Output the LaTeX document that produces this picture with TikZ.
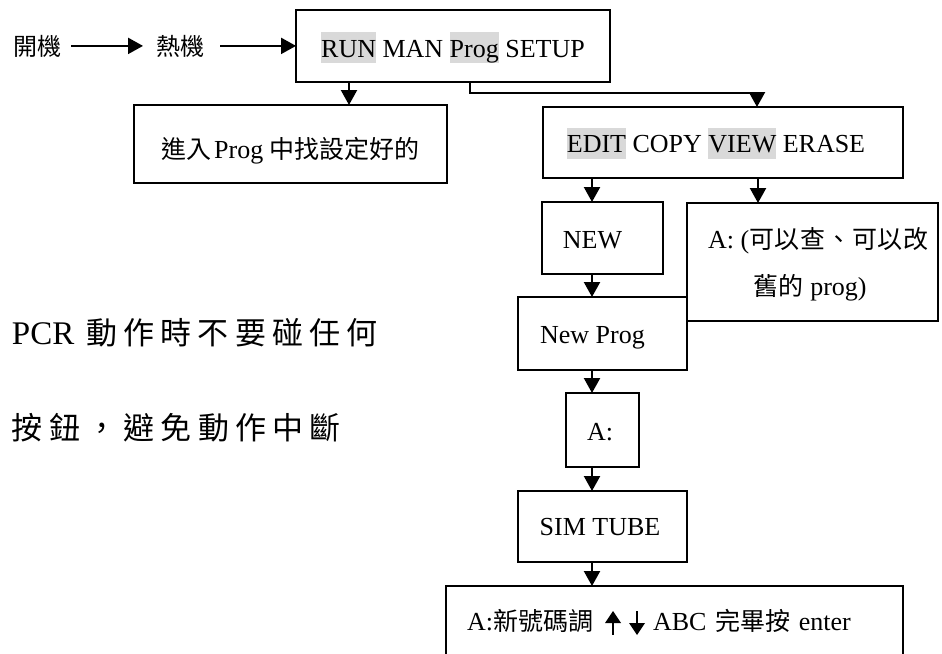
\documentclass[tikz,border=0pt]{standalone}
\usepackage{fontspec}
\setmainfont{Liberation Serif}
\newfontfamily\cjk{Noto Sans CJK TC}
\newfontfamily\cjkwide[LetterSpace=20]{Noto Sans CJK TC}
\newfontfamily\cjkmid[LetterSpace=3]{Noto Sans CJK TC}
\usetikzlibrary{arrows.meta}
\definecolor{hlgray}{RGB}{217,217,217}
\newcommand\hlw[1]{\begingroup\setlength{\fboxsep}{0pt}\colorbox{hlgray}{\rule[-6pt]{0pt}{31pt}#1}\endgroup}
\newcommand\zh[1]{{\cjk\fontsize{25}{30}\selectfont #1}}
\newcommand\uparr{\tikz[baseline=0pt,x=1pt,y=1pt]{\fill (-1.4,-5) rectangle (1.4,8); \fill (-8,7) -- (8,7) -- (0,19) -- cycle;}}
\newcommand\downarr{\tikz[baseline=0pt,x=1pt,y=1pt]{\fill (-1.4,19) rectangle (1.4,5); \fill (-8,7) -- (8,7) -- (0,-5) -- cycle;}}
\begin{document}
\begin{tikzpicture}[x=1pt,y=-1pt,
  box/.style={draw, line width=1.6pt, inner sep=0pt, outer sep=0pt, font=\fontsize{26}{30}\selectfont},
  bl/.style={text height=#1, text depth=0pt},
  arr/.style={line width=2.2pt, -{Triangle[width=16pt,length=15pt]}},
  plain/.style={inner sep=0pt, outer sep=0pt, anchor=base west}
]
\useasboundingbox (0,0) rectangle (942,653);

% start chain
\node[plain, font=\fontsize{24}{28}\selectfont] (kai) at (13,55) {\cjk 開機};
\node[plain, font=\fontsize{24}{28}\selectfont] (re) at (156,55) {\cjk 熱機};

% boxes
\node[box, minimum width=314pt, minimum height=72pt, bl=22pt] (top) at (453,46)
  {\hlw{RUN} MAN \hlw{Prog} SETUP};
\node[box, minimum width=313pt, minimum height=78pt, bl=28pt] (left) at (290.5,144)
  {\zh{進入}\hspace{3pt}Prog \zh{中找設定好的}};
\node[box, minimum width=360pt, minimum height=71pt, bl=20pt] (edit) at (723,142.5)
  {\hlw{EDIT} COPY \hlw{VIEW} ERASE\hspace*{14pt}};
\node[box, minimum width=121pt, minimum height=72pt, bl=20pt] (new) at (602.5,238)
  {NEW\hspace*{20pt}};
\node[box, minimum width=251pt, minimum height=118pt] (abox) at (812.5,262) {};
\node[box, minimum width=169pt, minimum height=73pt, bl=19pt] (newprog) at (602.5,333.5)
  {New Prog\hspace*{20pt}};
\node[box, minimum width=73pt, minimum height=74pt, bl=20pt] (aa) at (602.5,430)
  {A:\hspace*{5pt}};
\node[box, minimum width=169pt, minimum height=71pt, bl=17pt] (sim) at (602.5,526.5)
  {SIM TUBE\hspace*{5pt}};
\node[box, minimum height=84pt, text width=415pt, inner xsep=21pt, align=left, bl=4pt] (bottom) at (674.5,628)
  {A:\zh{新號碼調}\hspace{12pt}\uparr\hspace{8pt}\downarr\hspace{8pt}ABC \zh{完畢按} enter};

% text inside the A box
\node[plain, font=\fontsize{26}{30}\selectfont] (ab1) at (708,248)
  {A: ({\cjkmid\fontsize{25}{30}\selectfont 可以查、可以改}};
\node[plain, font=\fontsize{26}{30}\selectfont] (ab2) at (753,295)
  {{\cjkmid\fontsize{25}{30}\selectfont 舊的} prog)};

% warning text
\node[plain] (warn1) at (12,344)
  {\fontsize{33}{38}\selectfont PCR\hspace{12pt}{\cjkwide\fontsize{31}{36}\selectfont 動作時不要碰任何}};
\node[plain] (warn2) at (12,439)
  {{\cjkwide\fontsize{31}{36}\selectfont 按鈕，避免動作中斷}};

% helper coordinates
\coordinate (c1) at (349,0);
\coordinate (col) at (592,0);
\coordinate (colb) at (758,0);
\coordinate (e1) at (470,93);
\coordinate (e2) at (757,93);

% connectors
\draw[arr] ([xshift=10pt]kai.east) -- ([xshift=-13pt]re.west);
\draw[arr] ([xshift=16pt]re.east) -- (re.east -| top.west);
\draw[arr] (top.south -| c1) -- (left.north -| c1);
\draw[arr] (top.south -| e1) -- (e1) -- (e2) -- (edit.north -| e2);
\draw[arr] (edit.south -| col) -- (new.north -| col);
\draw[arr] (edit.south -| colb) -- (abox.north -| colb);
\draw[arr] (new.south -| col) -- (newprog.north -| col);
\draw[arr] (newprog.south -| col) -- (aa.north -| col);
\draw[arr] (aa.south -| col) -- (sim.north -| col);
\draw[arr] (sim.south -| col) -- (bottom.north -| col);
\end{tikzpicture}
\end{document}
